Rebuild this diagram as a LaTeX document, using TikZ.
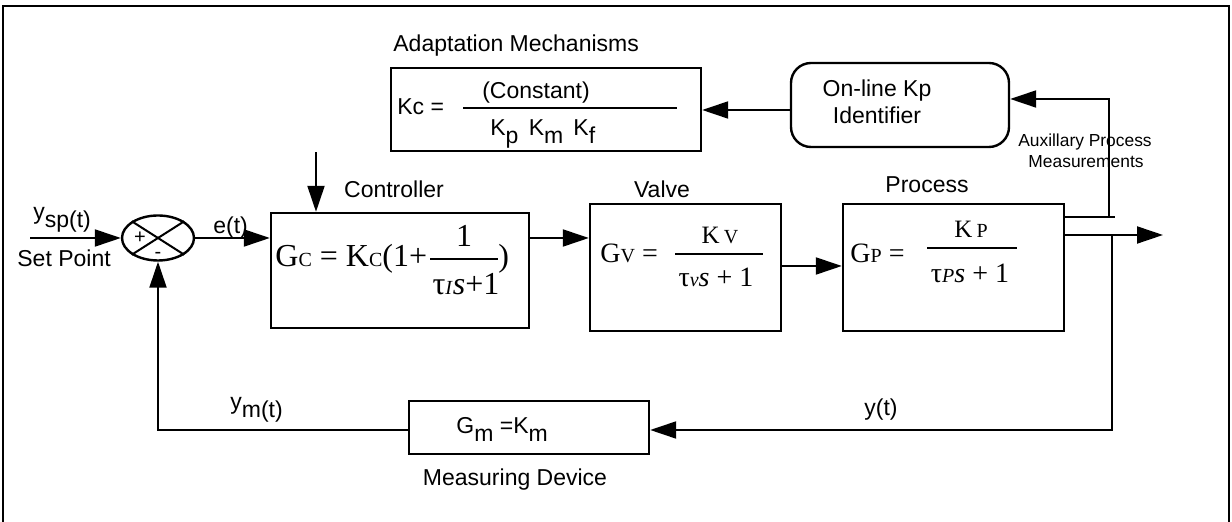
\documentclass[tikz,border=0pt]{standalone}
\usepackage{fontspec}
\setmainfont{Liberation Serif}
\newfontfamily\arial{Liberation Sans}
\usetikzlibrary{arrows.meta,shapes.geometric}
\newcommand\smc[1]{{\fontsize{10}{10}\selectfont #1}}
\newcommand\lo[1]{\raisebox{-4pt}{#1}}
\tikzset{
  blk/.style={draw, line width=1.2pt, inner sep=0pt},
  ln/.style={line width=1pt},
  arr/.style={line width=1pt, -{Triangle[length=13pt,width=8.5pt]}},
  fbar/.style={line width=0.8pt},
  af/.style={font=\arial\fontsize{11.5}{13.5}\selectfont, inner sep=0pt},
  sf/.style={font=\arial\fontsize{8.7}{10}\selectfont, inner sep=0pt},
  fm/.style={font=\fontsize{14}{16}\selectfont, inner sep=0pt},
  fmb/.style={font=\fontsize{16}{18}\selectfont, inner sep=0pt},
  fmn/.style={font=\fontsize{12.5}{14}\selectfont, inner sep=0pt},
}
\begin{document}
\begin{tikzpicture}[x=0.5pt,y=-0.5pt]
\useasboundingbox (0,0) rectangle (1232,522);
% frame
\draw[line width=1.2pt] (3,522) -- (3,6) -- (1229,6) -- (1229,522);

% blocks
\node[blk, ellipse, minimum width=36pt, minimum height=22.5pt] (s) at (158,238) {};
\draw[line width=1pt] (s.north west) -- (s.south east);
\draw[line width=1pt] (s.north east) -- (s.south west);
\node[font=\arial\fontsize{10}{10}\selectfont, inner sep=0pt] (plus) at (140,238) {+};
\node[font=\arial\fontsize{10}{10}\selectfont, inner sep=0pt] (minus) at (158,255) {-};

\node[blk, minimum width=129pt, minimum height=57.5pt] (ctrl) at (400,270.5) {};
\node[blk, minimum width=95.5pt, minimum height=63.5pt] (valve) at (685.5,267.5) {};
\node[blk, minimum width=110.5pt, minimum height=63.5pt] (proc) at (953.5,267.5) {};
\node[blk, minimum width=155pt, minimum height=41.5pt] (adapt) at (546,109.5) {};
\node[blk, rounded corners=10pt, minimum width=109pt, minimum height=42pt] (id) at (900,105) {};
\node[blk, minimum width=120pt, minimum height=26.5pt] (meas) at (529,427.5) {};

% controller formula
\node[fmb, anchor=base west] (cl) at (275,267) {G\smc{C} = K\smc{C}(1+};
\draw[fbar] (430,259) -- (498,259);
\node[fmb, anchor=base] (cn) at (464,247) {1};
\node[fmb, anchor=base] (cd) at (466,295) {τ\textit{\smc{I}}\textit{s}+1};
\node[fmb, anchor=base west] (cr) at (498,267) {)};

% valve formula
\node[fm, anchor=base west] (vl) at (600,263) {G\smc{V} =};
\draw[fbar] (675,254) -- (763,254);
\node[fmn, anchor=base] (vn) at (720,244) {K\,\smc{V}};
\node[fm, anchor=base] (vd) at (716,287) {τ\textit{\smc{v}}\textit{s} + 1};

% process formula
\node[fm, anchor=base west] (pl) at (850,263) {G\smc{P} =};
\draw[fbar] (927,248) -- (1017,248);
\node[fmn, anchor=base] (pn) at (971,238) {K\,\smc{P}};
\node[fm, anchor=base] (pd) at (970,283) {τ\textit{\smc{P}}\textit{s} + 1};

% adaptation formula
\node[af, anchor=base west] (ak) at (397,115) {Kc =};
\draw[line width=1pt] (463,108) -- (677,108);
\node[af, anchor=base] (an) at (536,99) {(Constant)};
\node[af, anchor=base west] (ad) at (490,136) {K\lo{p}\, K\lo{m}\, K\lo{f}};

% measuring formula
\node[af, anchor=base west] (mf) at (456,434) {G\lo{m} =K\lo{m}};

% labels
\node[af, anchor=base west] (lsp) at (33,220) {y\lo{sp(t)}};
\node[af, anchor=base west] (lset) at (17,267) {Set Point};
\node[af, anchor=base west] (le) at (213,234) {e(t)};
\node[af, anchor=base] (lctrl) at (394,198) {Controller};
\node[af, anchor=base] (lvalve) at (662,198) {Valve};
\node[af, anchor=base] (lproc) at (927,193) {Process};
\node[af, anchor=base west] (ladapt) at (393,52) {Adaptation Mechanisms};
\node[af, anchor=base] (lid1) at (877,97) {On-line Kp};
\node[af, anchor=base] (lid2) at (877,124) {Identifier};
\node[sf, anchor=base] (laux1) at (1085,147) {Auxillary Process};
\node[sf, anchor=base] (laux2) at (1086,168) {Measurements};
\node[af, anchor=base west] (ly) at (864,416) {y(t)};
\node[af, anchor=base west] (lym) at (230,410) {y\lo{m(t)}};
\node[af, anchor=base] (lmeas) at (515,486) {Measuring Device};

% connectors
\coordinate (spin) at (30,238);
\draw[arr] (spin) -- (s.west);
\draw[arr] (s.east) -- (ctrl.west |- s.east);
\draw[arr] (ctrl.east |- s.east) -- (valve.west |- s.east);
\coordinate (vp) at (0,266);
\draw[arr] (valve.east |- vp) -- (proc.west |- vp);

\coordinate (auxr) at (1115,217);
\coordinate (auxv) at (1109,217);
\coordinate (auxt) at (1109,99);
\draw[ln] (proc.east |- auxr) -- (auxr);
\draw[arr] (auxv) -- (auxt) -- (id.east |- auxt);

\coordinate (out) at (1163,235);
\draw[arr] (proc.east |- out) -- (out);

\coordinate (ia) at (0,110);
\draw[arr] (id.west |- ia) -- (adapt.east |- ia);
\coordinate (ac) at (316,0);
\draw[arr] (adapt.south -| ac) -- (ctrl.north -| ac);

\coordinate (fbr) at (1112,235);
\coordinate (fbb) at (1112,430);
\draw[arr] (fbr) -- (fbb) -- (meas.east |- fbb);
\coordinate (fbl) at (158,430);
\draw[arr] (meas.west |- fbb) -- (fbl) -- (s.south);
\end{tikzpicture}
\end{document}
